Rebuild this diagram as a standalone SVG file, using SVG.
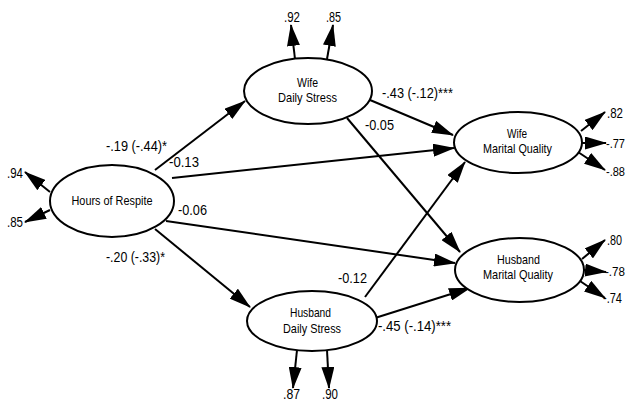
<svg xmlns="http://www.w3.org/2000/svg" width="629" height="402" viewBox="0 0 629 402">
<style>
text{font-family:"Liberation Sans Narrow","Liberation Sans",Arial,sans-serif;font-size:15px;fill:#000}
.n{text-anchor:middle;font-size:13.5px}
.r{font-size:13px}
ellipse{fill:#fff;stroke:#000;stroke-width:2}
.c line{stroke:#000;stroke-width:2;marker-end:url(#ah)}
</style>
<defs>
<marker id="ah" markerUnits="userSpaceOnUse" markerWidth="22" markerHeight="13" refX="21" refY="6.5" orient="auto" viewBox="0 0 22 13">
<path d="M0,0 L22,6.5 L0,13 z" fill="#000"/>
</marker>
</defs>
<g class="c" id="connectors">
<line x1="155" y1="170" x2="245" y2="101"/>
<line x1="172" y1="178" x2="454" y2="148"/>
<line x1="166" y1="221" x2="455" y2="263"/>
<line x1="155" y1="229" x2="250" y2="307"/>
<line x1="370" y1="100" x2="453" y2="135"/>
<line x1="347" y1="118" x2="460" y2="252"/>
<line x1="365" y1="297" x2="465" y2="162"/>
<line x1="375" y1="318" x2="470" y2="288"/>
<line x1="50" y1="192" x2="25" y2="172"/>
<line x1="50" y1="210" x2="25" y2="222"/>
<line x1="295" y1="59" x2="291" y2="25"/>
<line x1="327" y1="59" x2="333" y2="25"/>
<line x1="297" y1="350" x2="293" y2="388"/>
<line x1="327" y1="350" x2="329" y2="388"/>
<line x1="581" y1="131" x2="605" y2="112"/>
<line x1="582" y1="143" x2="606" y2="143"/>
<line x1="578" y1="152" x2="605" y2="170"/>
<line x1="582" y1="259" x2="605" y2="240"/>
<line x1="584" y1="270" x2="606" y2="272"/>
<line x1="580" y1="281" x2="605" y2="298"/>
</g>
<g id="respite">
<ellipse cx="112" cy="201" rx="62" ry="36"/>
<text class="n" x="112" y="205" textLength="81" lengthAdjust="spacingAndGlyphs">Hours of Respite</text>
</g>
<g id="wife-stress">
<ellipse cx="308" cy="91" rx="64" ry="33"/>
<text class="n" x="307.5" y="87" textLength="21" lengthAdjust="spacingAndGlyphs">Wife</text>
<text class="n" x="307.5" y="102" textLength="59" lengthAdjust="spacingAndGlyphs">Daily Stress</text>
</g>
<g id="husband-stress">
<ellipse cx="312" cy="321" rx="65" ry="30"/>
<text class="n" x="310.5" y="317" textLength="41" lengthAdjust="spacingAndGlyphs">Husband</text>
<text class="n" x="312" y="333" textLength="58" lengthAdjust="spacingAndGlyphs">Daily Stress</text>
</g>
<g id="wife-quality">
<ellipse cx="518" cy="142.5" rx="64" ry="30.5"/>
<text class="n" x="517" y="138" textLength="20" lengthAdjust="spacingAndGlyphs">Wife</text>
<text class="n" x="517.5" y="153" textLength="69" lengthAdjust="spacingAndGlyphs">Marital Quality</text>
</g>
<g id="husband-quality">
<ellipse cx="519.5" cy="270" rx="64.5" ry="32"/>
<text class="n" x="518.5" y="263.5" textLength="43" lengthAdjust="spacingAndGlyphs">Husband</text>
<text class="n" x="518" y="278.5" textLength="70" lengthAdjust="spacingAndGlyphs">Marital Quality</text>
</g>
<g id="path-labels">
<text x="106" y="151" textLength="61" lengthAdjust="spacingAndGlyphs">-.19 (-.44)*</text>
<text x="169" y="167" textLength="30" lengthAdjust="spacingAndGlyphs">-0.13</text>
<text x="178" y="215" textLength="29" lengthAdjust="spacingAndGlyphs">-0.06</text>
<text x="106" y="262" textLength="59" lengthAdjust="spacingAndGlyphs">-.20 (-.33)*</text>
<text x="382" y="98" textLength="71" lengthAdjust="spacingAndGlyphs">-.43 (-.12)***</text>
<text x="365" y="130" textLength="29" lengthAdjust="spacingAndGlyphs">-0.05</text>
<text x="338" y="283" textLength="29" lengthAdjust="spacingAndGlyphs">-0.12</text>
<text x="378" y="331" textLength="73" lengthAdjust="spacingAndGlyphs">-.45 (-.14)***</text>
</g>
<g id="error-labels">
<text x="7" y="178" textLength="16" lengthAdjust="spacingAndGlyphs">.94</text>
<text x="7" y="227" textLength="16" lengthAdjust="spacingAndGlyphs">.85</text>
<text x="284" y="22" textLength="16" lengthAdjust="spacingAndGlyphs">.92</text>
<text x="326" y="22" textLength="15" lengthAdjust="spacingAndGlyphs">.85</text>
<text x="283" y="399" textLength="17" lengthAdjust="spacingAndGlyphs">.87</text>
<text x="322" y="399" textLength="16" lengthAdjust="spacingAndGlyphs">.90</text>
<text x="607" y="118" textLength="16" lengthAdjust="spacingAndGlyphs">.82</text>
<text class="r" x="606" y="148" textLength="19" lengthAdjust="spacingAndGlyphs">-.77</text>
<text class="r" x="606" y="176" textLength="19" lengthAdjust="spacingAndGlyphs">-.88</text>
<text x="607" y="245" textLength="15" lengthAdjust="spacingAndGlyphs">.80</text>
<text class="r" x="605" y="276" textLength="20" lengthAdjust="spacingAndGlyphs">-.78</text>
<text x="603" y="303" textLength="19" lengthAdjust="spacingAndGlyphs">-.74</text>
</g>
</svg>
